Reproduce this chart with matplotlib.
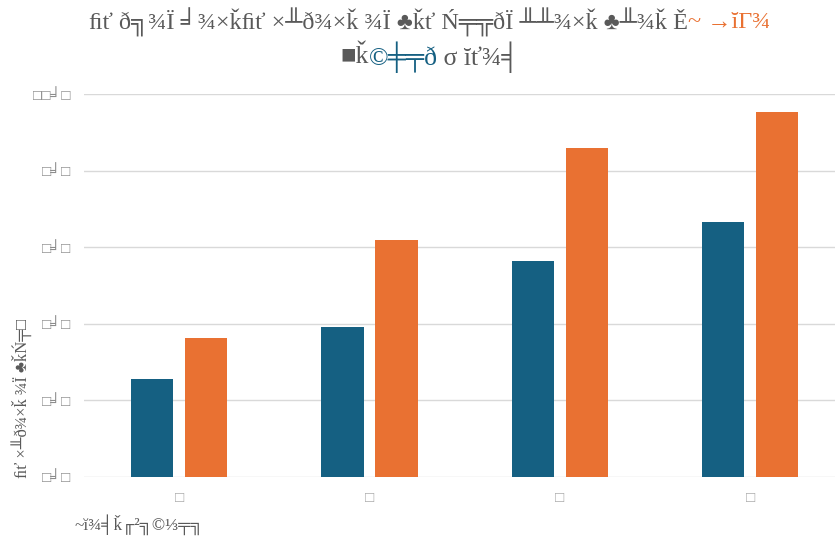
import matplotlib
matplotlib.use("Agg")
import matplotlib.pyplot as plt
import numpy as np

plt.rcParams['font.family'] = ['Liberation Serif', 'DejaVu Serif', 'DejaVu Sans']

# --- data ---
categories = ["□", "□", "□", "□"]
series_a = [25.7, 39.1, 56.4, 66.7]
series_b = [36.2, 62.0, 85.9, 95.5]
y_ticks = [0, 20, 40, 60, 80, 100]
y_tick_labels = ["□╛□", "□╛□", "□╛□", "□╛□", "□╛□", "□□╛□"]

title_line1 = [("ﬁť ð╗¾Ï ╛¾×ǩﬁť ×╨ð¾×ǩ ¾Ï ♣ǩť Ń╤╦ðÏ ╨╨¾×ǩ ♣╨¾ǩ Ě", "gray"),
               ("~ →ĭΓ¾", "orange")]
title_line2 = [("■ǩ", "gray"), ("©╪╤ð", "blue"), (" σ ĭť¾╡", "gray")]
y_label = "ﬁť ×╨ð¾×ǩ ¾Ï ♣ǩŃ╤□"
note = "~ĭ¾╡ǩ╓²╗©⅓╤╗"

BLUE = "#156082"
ORANGE = "#E97132"
GRAY = "#595959"
palette = {"gray": GRAY, "blue": BLUE, "orange": ORANGE}

fig = plt.figure(figsize=(8.35, 5.4), dpi=100)
ax = fig.add_axes([84 / 835, 63 / 540, 1 - 84 / 835, (477 - 94.3) / 540])

x = np.arange(len(categories))
w = 0.222
off = 0.142
ax.bar(x - off, series_a, width=w, color=BLUE, zorder=3)
ax.bar(x + off, series_b, width=w, color=ORANGE, zorder=3)

ax.set_xlim(-0.5, 3.446)
ax.set_ylim(0, 100)
ax.set_yticks(y_ticks)
ax.set_yticklabels(y_tick_labels, color="#8c8c8c", fontsize=11)
ax.set_xticks(x)
ax.set_xticklabels(categories, color="#a6a6a6", fontsize=11)
ax.tick_params(axis="both", length=0)
ax.tick_params(axis="y", pad=9)
ax.tick_params(axis="x", pad=11)
ax.grid(axis="y", color="#d9d9d9", linewidth=1, zorder=0)
ax.set_axisbelow(True)
for s in ax.spines.values():
    s.set_visible(False)

fig.text(22 / 835, 1 - 398 / 540, y_label, rotation=90, ha="center", va="center",
         color=GRAY, fontsize=12)
fig.text(75 / 835, 1 - 525 / 540, note, ha="left", va="center",
         color=GRAY, fontsize=12.5)

renderer = fig.canvas.get_renderer()


def colored_line(parts, y_px, size):
    texts = []
    for s, c in parts:
        t = fig.text(0, 1 - y_px / 540, s, color=palette[c], fontsize=size,
                     ha="left", va="center")
        texts.append(t)
    widths = [t.get_window_extent(renderer).width for t in texts]
    total = sum(widths)
    start = 430 - total / 2
    for t, wd in zip(texts, widths):
        t.set_x(start / 835)
        start += wd


colored_line(title_line1, 22, 17.5)
colored_line(title_line2, 57, 18.5)

fig.savefig("out.png", dpi=100)
